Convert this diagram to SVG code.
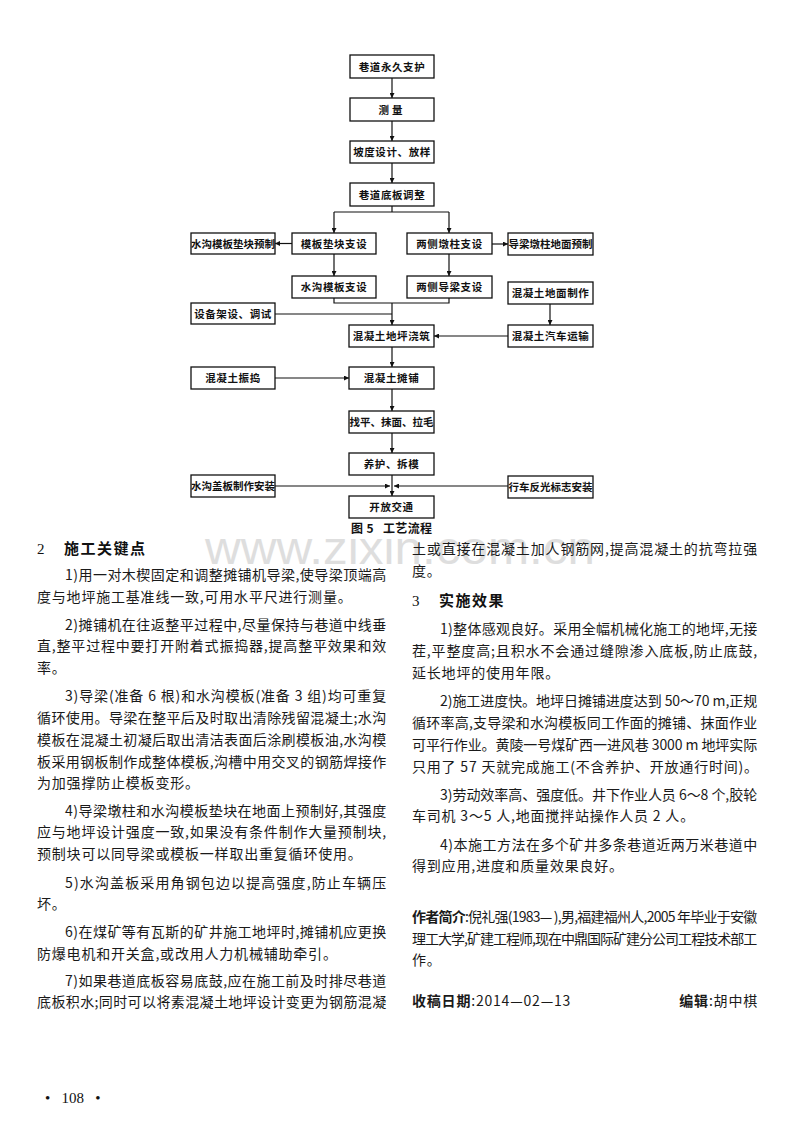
<svg xmlns="http://www.w3.org/2000/svg" width="800" height="1129" viewBox="0 0 800 1129">
<defs>
<style>
.bx{fill:#fff;stroke:#111;stroke-width:1.3}
.bt{font-family:"Noto Sans CJK SC","Noto Sans CJK JP",sans-serif;font-size:10.5px;font-weight:bold;fill:#111;text-anchor:middle;letter-spacing:0.6px}
.ln{fill:none;stroke:#111;stroke-width:1.2}
.body{font-family:"Noto Sans CJK SC","Noto Sans CJK JP",sans-serif;font-size:14px;fill:#1a1a1a;letter-spacing:0.8px}
.hd{font-family:"Noto Sans CJK SC","Noto Sans CJK JP",sans-serif;font-size:15px;font-weight:bold;fill:#111;letter-spacing:1.5px}
.num{font-family:"Liberation Serif",serif;font-size:15px;fill:#111}
.b{font-weight:bold}
.cap{font-family:"Noto Sans CJK SC","Noto Sans CJK JP",sans-serif;font-size:12px;font-weight:bold;fill:#111}
.wm{font-family:"Liberation Sans",Arial,sans-serif;font-size:46px;fill:#dedede}
</style>
<marker id="ah" viewBox="0 0 10 10" refX="10" refY="5" markerWidth="6" markerHeight="5" markerUnits="userSpaceOnUse" orient="auto"><path d="M0,0 L10,5 L0,10 z" fill="#111"/></marker>
</defs>
<rect width="800" height="1129" fill="#fff"/>
<text class="wm" x="205" y="564" textLength="390" lengthAdjust="spacingAndGlyphs">www.zixin.com.cn</text>

<g id="connectors">
<line class="ln" x1="392" y1="78" x2="392" y2="98" marker-end="url(#ah)"/>
<line class="ln" x1="392" y1="121" x2="392" y2="141" marker-end="url(#ah)"/>
<line class="ln" x1="392" y1="163" x2="392" y2="183" marker-end="url(#ah)"/>
<polyline class="ln" points="392,206 392,212"/>
<polyline class="ln" points="334,212 449,212"/>
<line class="ln" x1="334" y1="212" x2="334" y2="233" marker-end="url(#ah)"/>
<line class="ln" x1="449" y1="212" x2="449" y2="233" marker-end="url(#ah)"/>
<line class="ln" x1="292" y1="243.5" x2="275" y2="243.5" marker-end="url(#ah)"/>
<line class="ln" x1="492" y1="244" x2="508" y2="244" marker-end="url(#ah)"/>
<line class="ln" x1="334" y1="254" x2="334" y2="276" marker-end="url(#ah)"/>
<line class="ln" x1="449" y1="254" x2="449" y2="276" marker-end="url(#ah)"/>
<polyline class="ln" points="334,298 334,303 449,303 449,298"/>
<line class="ln" x1="392" y1="303" x2="392" y2="325" marker-end="url(#ah)"/>
<polyline class="ln" points="275,314 392,314"/>
<line class="ln" x1="550" y1="304" x2="550" y2="325" marker-end="url(#ah)"/>
<line class="ln" x1="508" y1="336" x2="434" y2="336" marker-end="url(#ah)"/>
<line class="ln" x1="392" y1="347" x2="392" y2="367" marker-end="url(#ah)"/>
<line class="ln" x1="275" y1="378" x2="349" y2="378" marker-end="url(#ah)"/>
<line class="ln" x1="392" y1="389" x2="392" y2="411" marker-end="url(#ah)"/>
<line class="ln" x1="392" y1="433" x2="392" y2="453" marker-end="url(#ah)"/>
<line class="ln" x1="392" y1="475" x2="392" y2="496" marker-end="url(#ah)"/>
<line class="ln" x1="275" y1="486" x2="390" y2="486" marker-end="url(#ah)"/>
<line class="ln" x1="508" y1="486" x2="394" y2="486" marker-end="url(#ah)"/>
</g>

<g id="n1"><rect class="bx" x="350" y="55" width="84" height="23"/><text class="bt" x="392" y="70.5">巷道永久支护</text></g>
<g id="n2"><rect class="bx" x="350" y="98" width="84" height="23"/><text class="bt" x="392" y="113.5" style="letter-spacing:3px">测量</text></g>
<g id="n3"><rect class="bx" x="350" y="141" width="84" height="22"/><text class="bt" x="392" y="156">坡度设计、放样</text></g>
<g id="n4"><rect class="bx" x="350" y="183" width="84" height="23"/><text class="bt" x="392" y="198.5">巷道底板调整</text></g>
<g id="n5"><rect class="bx" x="191" y="233" width="84" height="21"/><text class="bt" x="233" y="247.5" style="letter-spacing:0px">水沟模板垫块预制</text></g>
<g id="n6"><rect class="bx" x="292" y="233" width="84" height="21"/><text class="bt" x="334" y="247.5">模板垫块支设</text></g>
<g id="n7"><rect class="bx" x="407" y="233" width="85" height="21"/><text class="bt" x="449.5" y="247.5">两侧墩柱支设</text></g>
<g id="n8"><rect class="bx" x="508" y="233" width="85" height="22"/><text class="bt" x="550.5" y="248" style="letter-spacing:0px">导梁墩柱地面预制</text></g>
<g id="n9"><rect class="bx" x="292" y="276" width="84" height="22"/><text class="bt" x="334" y="291">水沟模板支设</text></g>
<g id="n10"><rect class="bx" x="407" y="276" width="85" height="22"/><text class="bt" x="449.5" y="291">两侧导梁支设</text></g>
<g id="n11"><rect class="bx" x="508" y="282" width="85" height="22"/><text class="bt" x="550.5" y="297">混凝土地面制作</text></g>
<g id="n12"><rect class="bx" x="191" y="303" width="84" height="21"/><text class="bt" x="233" y="317.5">设备架设、调试</text></g>
<g id="n13"><rect class="bx" x="349" y="325" width="85" height="22"/><text class="bt" x="391.5" y="340">混凝土地坪浇筑</text></g>
<g id="n14"><rect class="bx" x="508" y="325" width="85" height="22"/><text class="bt" x="550.5" y="340">混凝土汽车运输</text></g>
<g id="n15"><rect class="bx" x="191" y="367" width="84" height="22"/><text class="bt" x="233" y="382">混凝土振捣</text></g>
<g id="n16"><rect class="bx" x="349" y="367" width="85" height="22"/><text class="bt" x="391.5" y="382">混凝土摊铺</text></g>
<g id="n17"><rect class="bx" x="349" y="411" width="85" height="22"/><text class="bt" x="391.5" y="426" style="letter-spacing:0px">找平、抹面、拉毛</text></g>
<g id="n18"><rect class="bx" x="349" y="453" width="85" height="22"/><text class="bt" x="391.5" y="468">养护、拆模</text></g>
<g id="n19"><rect class="bx" x="191" y="475" width="84" height="22"/><text class="bt" x="233" y="490" style="letter-spacing:0px">水沟盖板制作安装</text></g>
<g id="n20"><rect class="bx" x="508" y="476" width="85" height="22"/><text class="bt" x="550.5" y="491" style="letter-spacing:0px">行车反光标志安装</text></g>
<g id="n21"><rect class="bx" x="349" y="496" width="85" height="22"/><text class="bt" x="391.5" y="511">开放交通</text></g>

<g id="caption">
<text class="cap" x="351" y="533" xml:space="preserve" textLength="81" lengthAdjust="spacing">图 5   工艺流程</text>
</g>

<g id="left-column">
<text class="num" x="37" y="554">2</text>
<text class="hd" x="64" y="554">施工关键点</text>
<text class="body" x="65" y="580" textLength="322" lengthAdjust="spacing">1)用一对木楔固定和调整摊铺机导梁,使导梁顶端高</text>
<text class="body" x="37" y="602">度与地坪施工基准线一致,可用水平尺进行测量。</text>
<text class="body" x="65" y="630" textLength="322" lengthAdjust="spacing">2)摊铺机在往返整平过程中,尽量保持与巷道中线垂</text>
<text class="body" x="37" y="651" textLength="350" lengthAdjust="spacing">直,整平过程中要打开附着式振捣器,提高整平效果和效</text>
<text class="body" x="37" y="673">率。</text>
<text class="body" x="65" y="701" textLength="322" lengthAdjust="spacing">3)导梁(准备 6 根)和水沟模板(准备 3 组)均可重复</text>
<text class="body" x="37" y="723" textLength="350" lengthAdjust="spacing">循环使用。导梁在整平后及时取出清除残留混凝土;水沟</text>
<text class="body" x="37" y="745" textLength="350" lengthAdjust="spacing">模板在混凝土初凝后取出清洁表面后涂刷模板油,水沟模</text>
<text class="body" x="37" y="767" textLength="350" lengthAdjust="spacing">板采用钢板制作成整体模板,沟槽中用交叉的钢筋焊接作</text>
<text class="body" x="37" y="788">为加强撑防止模板变形。</text>
<text class="body" x="65" y="816" textLength="322" lengthAdjust="spacing">4)导梁墩柱和水沟模板垫块在地面上预制好,其强度</text>
<text class="body" x="37" y="837" textLength="350" lengthAdjust="spacing">应与地坪设计强度一致,如果没有条件制作大量预制块,</text>
<text class="body" x="37" y="859">预制块可以同导梁或模板一样取出重复循环使用。</text>
<text class="body" x="65" y="888" textLength="322" lengthAdjust="spacing">5)水沟盖板采用角钢包边以提高强度,防止车辆压</text>
<text class="body" x="37" y="909">坏。</text>
<text class="body" x="65" y="937" textLength="322" lengthAdjust="spacing">6)在煤矿等有瓦斯的矿井施工地坪时,摊铺机应更换</text>
<text class="body" x="37" y="959">防爆电机和开关盒,或改用人力机械辅助牵引。</text>
<text class="body" x="65" y="986" textLength="322" lengthAdjust="spacing">7)如果巷道底板容易底鼓,应在施工前及时排尽巷道</text>
<text class="body" x="37" y="1007" textLength="350" lengthAdjust="spacing">底板积水;同时可以将素混凝土地坪设计变更为钢筋混凝</text>
</g>

<g id="right-column">
<text class="body" x="412" y="554" textLength="346" lengthAdjust="spacing">土或直接在混凝土加人钢筋网,提高混凝土的抗弯拉强</text>
<text class="body" x="412" y="576">度。</text>
<text class="num" x="412" y="606">3</text>
<text class="hd" x="439" y="606">实施效果</text>
<text class="body" x="440" y="634" textLength="318" lengthAdjust="spacing">1)整体感观良好。采用全幅机械化施工的地坪,无接</text>
<text class="body" x="412" y="656" textLength="346" lengthAdjust="spacing">茬,平整度高;且积水不会通过缝隙渗入底板,防止底鼓,</text>
<text class="body" x="412" y="678">延长地坪的使用年限。</text>
<text class="body" x="440" y="706" textLength="318" lengthAdjust="spacing">2)施工进度快。地坪日摊铺进度达到 50～70 m,正规</text>
<text class="body" x="412" y="728" textLength="346" lengthAdjust="spacing">循环率高,支导梁和水沟模板同工作面的摊铺、抹面作业</text>
<text class="body" x="412" y="750" textLength="346" lengthAdjust="spacing">可平行作业。黄陵一号煤矿西一进风巷 3000 m 地坪实际</text>
<text class="body" x="412" y="772">只用了 57 天就完成施工(不含养护、开放通行时间)。</text>
<text class="body" x="440" y="800" textLength="318" lengthAdjust="spacing">3)劳动效率高、强度低。井下作业人员 6～8 个,胶轮</text>
<text class="body" x="412" y="821">车司机 3～5 人,地面搅拌站操作人员 2 人。</text>
<text class="body" x="440" y="850" textLength="318" lengthAdjust="spacing">4)本施工方法在多个矿井多条巷道近两万米巷道中</text>
<text class="body" x="412" y="871">得到应用,进度和质量效果良好。</text>
<text class="body" x="412" y="922" textLength="346" lengthAdjust="spacing"><tspan class="b">作者简介</tspan>:倪礼强(1983— ),男,福建福州人,2005 年毕业于安徽</text>
<text class="body" x="412" y="944" textLength="346" lengthAdjust="spacing">理工大学,矿建工程师,现在中鼎国际矿建分公司工程技术部工</text>
<text class="body" x="412" y="965">作。</text>
<text class="body" x="412" y="1006"><tspan class="b">收稿日期</tspan>:2014—02—13</text>
<text class="body" x="758" y="1006" text-anchor="end"><tspan class="b">编辑</tspan>:胡中棋</text>
</g>

<g id="footer">
<text x="45" y="1103" font-family="Liberation Serif,serif" font-size="15" fill="#111" xml:space="preserve">•   108   •</text>
</g>
</svg>
